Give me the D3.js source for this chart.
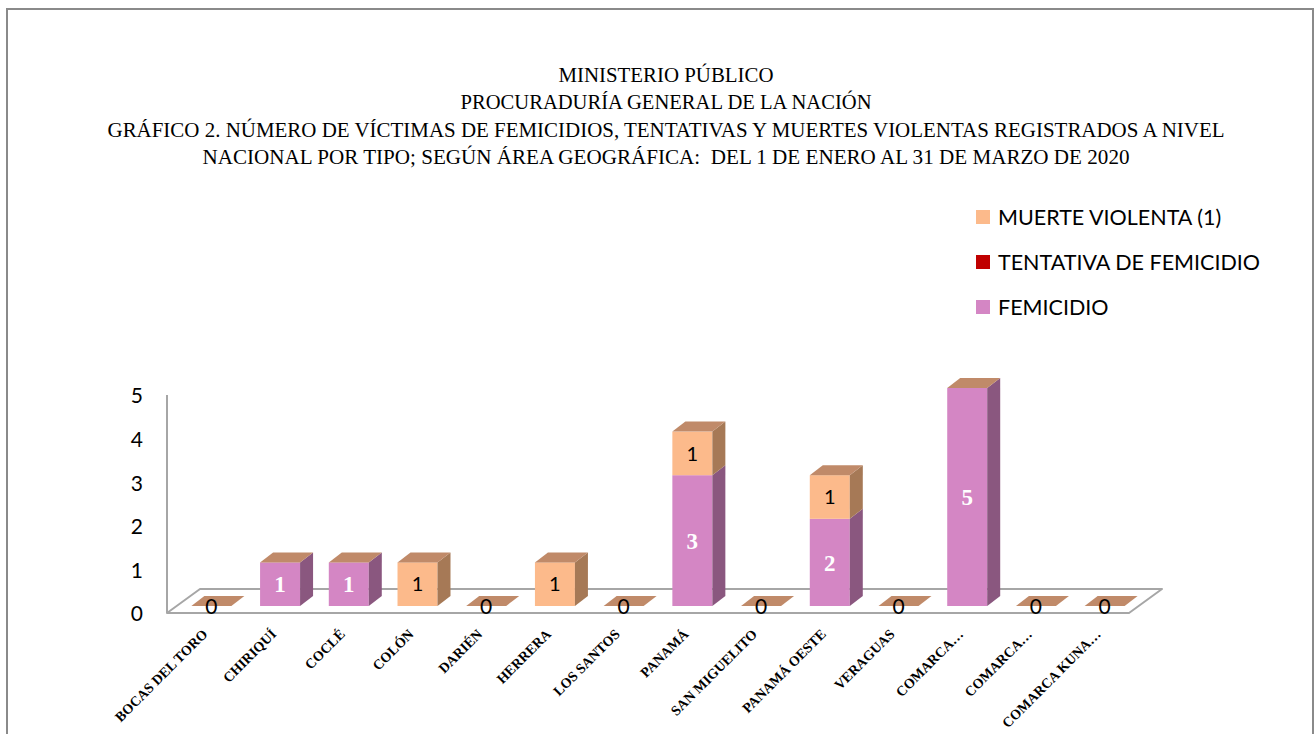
<!DOCTYPE html>
<html>
<head>
<meta charset="utf-8">
<script src="https://cdn.jsdelivr.net/npm/d3@7"></script>
<style>
  body { margin: 0; background: #fff; }
  .title { font-family: "Liberation Serif", serif; font-size: 21px; fill: #000; white-space: pre; }
  .legend-text, .tick-text, .dark-label { font-family: Lato, "Open Sans", sans-serif; }
  .cat-label { font-family: "Liberation Serif", serif; font-weight: bold; font-size: 14px; }
</style>
</head>
<body>
<div id="chart"></div>
<script>
// chart data
var categories = ["BOCAS DEL TORO", "CHIRIQUÍ", "COCLÉ", "COLÓN", "DARIÉN", "HERRERA",
  "LOS SANTOS", "PANAMÁ", "SAN MIGUELITO", "PANAMÁ OESTE", "VERAGUAS",
  "COMARCA…", "COMARCA…", "COMARCA KUNA…"];
var femicidio      = [0, 1, 1, 0, 0, 0, 0, 3, 0, 2, 0, 5, 0, 0];
var tentativa      = [0, 0, 0, 0, 0, 0, 0, 0, 0, 0, 0, 0, 0, 0];
var muerteViolenta = [0, 0, 0, 1, 0, 1, 0, 1, 0, 1, 0, 0, 0, 0];
var yTicks = [0, 1, 2, 3, 4, 5];
var titleLines = [
  "MINISTERIO PÚBLICO",
  "PROCURADURÍA GENERAL DE LA NACIÓN",
  "GRÁFICO 2. NÚMERO DE VÍCTIMAS DE FEMICIDIOS, TENTATIVAS Y MUERTES VIOLENTAS REGISTRADOS A NIVEL",
  "NACIONAL POR TIPO; SEGÚN ÁREA GEOGRÁFICA:  DEL 1 DE ENERO AL 31 DE MARZO DE 2020"
];
var legendItems = ["MUERTE VIOLENTA (1)", "TENTATIVA DE FEMICIDIO", "FEMICIDIO"];

var width = 1315, height = 734;

var svg = d3.select("#chart").append("svg")
  .attr("width", width)
  .attr("height", height);

// outer frame
svg.append("rect")
  .attr("x", 7).attr("y", 9)
  .attr("width", 1306).attr("height", 760)
  .attr("fill", "none")
  .attr("stroke", "#8a8a8a")
  .attr("stroke-width", 2);

// title (widths)
var titleWidths = [215, 411, 1117, 927];
var titleY = [82, 109, 137, 164];
svg.selectAll("text.title")
  .data(titleLines)
  .enter().append("text")
    .attr("class", "title")
    .attr("x", 666)
    .attr("y", function(d, i) { return titleY[i]; })
    .attr("text-anchor", "middle")
    .attr("textLength", function(d, i) { return titleWidths[i]; })
    .attr("lengthAdjust", "spacingAndGlyphs")
    .text(function(d) { return d; });

// series colours
var colors = {
  muerte:    { front: "#fcba8b", side: "#a67956", top: "#c08a69" },
  tentativa: { front: "#c00000", side: "#7d0000", top: "#c08a69" },
  femicidio: { front: "#d486c4", side: "#8a577f", top: "#c08a69" }
};
var legendColors = [colors.muerte.front, colors.tentativa.front, colors.femicidio.front];

// legend
var legend = svg.append("g");
legendItems.forEach(function(d, i) {
  var ly = 217 + i * 45;
  legend.append("rect")
    .attr("x", 976).attr("y", ly - 7)
    .attr("width", 14).attr("height", 14)
    .attr("fill", legendColors[i]);
  legend.append("text")
    .attr("class", "legend-text")
    .attr("x", 998).attr("y", ly + 8)
    .attr("font-size", 21.5)
    .text(d);
});

// 3d geometry
var floorLeft = 167, floorRight = 1129, floorFront = 613;
var floorDepth = [33, -24];
var barShift = [10, -7];   // bars sit part way into the floor
var barDepth = [13, -10];

var x = d3.scaleBand()
  .domain(d3.range(categories.length))
  .range([floorLeft, floorRight])
  .paddingInner(0.418)
  .paddingOuter(0.209);

var y = d3.scaleLinear()
  .domain([0, 5])
  .range([floorFront, floorFront - 218]);

// floor
svg.append("polygon")
  .attr("points", [
    [floorLeft, floorFront],
    [floorLeft + floorDepth[0], floorFront + floorDepth[1]],
    [floorRight + floorDepth[0], floorFront + floorDepth[1]],
    [floorRight, floorFront]
  ].join(" "))
  .attr("fill", "#fff")
  .attr("stroke", "#a6a6a6")
  .attr("stroke-width", 2)
  .attr("stroke-linejoin", "round");

// vertical axis
svg.append("line")
  .attr("x1", floorLeft).attr("x2", floorLeft)
  .attr("y1", y(5)).attr("y2", floorFront)
  .attr("stroke", "#a6a6a6")
  .attr("stroke-width", 2);

var yAxis = svg.append("g")
  .attr("transform", "translate(" + floorLeft + ",0)")
  .call(d3.axisLeft(y).tickValues(yTicks).tickSize(0).tickPadding(24).tickFormat(d3.format("d")));
yAxis.select(".domain").remove();
yAxis.selectAll("text")
  .attr("class", "tick-text")
  .attr("font-size", 21)
  .attr("fill", "#000")
  .attr("dy", "0.38em");

// bars
var bars = svg.append("g");
var series = [
  { key: "femicidio", values: femicidio, label: "light" },
  { key: "tentativa", values: tentativa, label: "none" },
  { key: "muerte", values: muerteViolenta, label: "dark" }
];

function face(points) { return points.map(function(p) { return p.join(","); }).join(" "); }

categories.forEach(function(cat, i) {
  var x0 = x(i) + barShift[0];
  var x1 = x0 + x.bandwidth();
  var base = 0, topColor = colors.muerte.top;
  var g = bars.append("g");
  series.forEach(function(s) {
    var v = s.values[i];
    if (!v) return;
    var yb = y(base) + barShift[1], yt = y(base + v) + barShift[1];
    g.append("rect")
      .attr("x", x0).attr("y", yt)
      .attr("width", x1 - x0).attr("height", yb - yt)
      .attr("fill", colors[s.key].front);
    g.append("polygon")
      .attr("points", face([[x1, yb], [x1 + barDepth[0], yb + barDepth[1]],
        [x1 + barDepth[0], yt + barDepth[1]], [x1, yt]]))
      .attr("fill", colors[s.key].side);
    if (s.label === "light") {
      g.append("text")
        .attr("x", (x0 + x1) / 2).attr("y", (yb + yt) / 2)
        .attr("dy", "0.36em")
        .attr("text-anchor", "middle")
        .attr("font-family", "'Liberation Serif', serif")
        .attr("font-weight", "bold")
        .attr("font-size", 23)
        .attr("fill", "#fff")
        .text(v);
    } else if (s.label === "dark") {
      g.append("text")
        .attr("class", "dark-label")
        .attr("x", (x0 + x1) / 2).attr("y", (yb + yt) / 2)
        .attr("dy", "0.36em")
        .attr("text-anchor", "middle")
        .attr("font-size", 20)
        .attr("fill", "#000")
        .text(v);
    }
    topColor = colors[s.key].top;
    base += v;
  });
  var ytop = y(base) + barShift[1];
  g.append("polygon")
    .attr("points", face([[x0, ytop], [x1, ytop], [x1 + barDepth[0], ytop + barDepth[1]],
      [x0 + barDepth[0], ytop + barDepth[1]]]))
    .attr("fill", topColor);
  if (base === 0) {
    g.append("text")
      .attr("class", "dark-label")
      .attr("x", (x0 + x1) / 2).attr("y", ytop)
      .attr("dy", "0.36em")
      .attr("text-anchor", "middle")
      .attr("font-size", 21)
      .attr("fill", "#000")
      .text("0");
  }
});

// category labels, rotated
svg.append("g").selectAll("text")
  .data(categories)
  .enter().append("text")
    .attr("class", "cat-label")
    .attr("text-anchor", "end")
    .attr("transform", function(d, i) {
      var cx = x(i) + x.bandwidth() / 2 + barShift[0] - 3;
      return "translate(" + cx + ",635) rotate(-45)";
    })
    .text(function(d) { return d; });
</script>
</body>
</html>
